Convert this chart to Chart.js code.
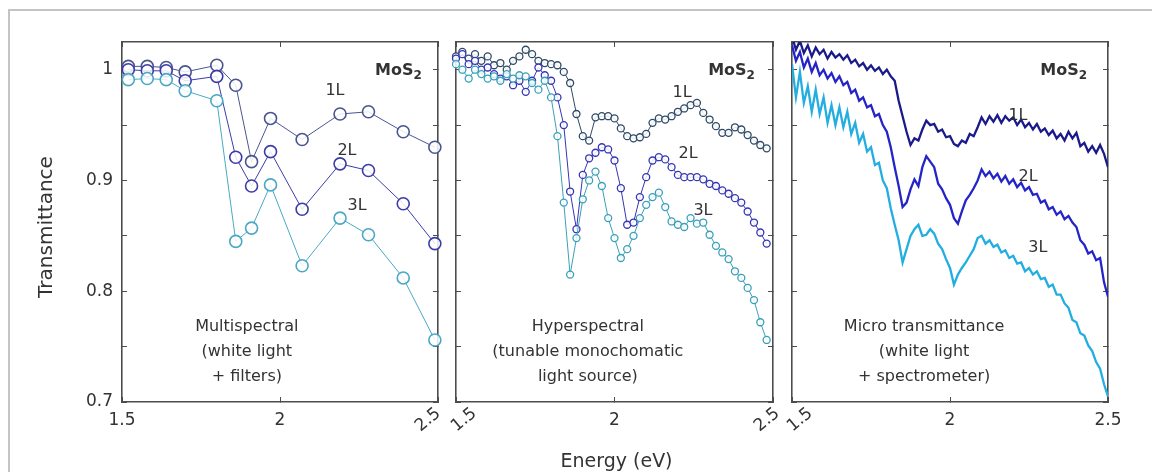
<!DOCTYPE html>
<html>
<head>
<meta charset="utf-8">
<script src="https://cdn.jsdelivr.net/npm/chart.js@4.4.1/dist/chart.umd.min.js"></script>
<style>
  html, body { margin: 0; padding: 0; background: #fff; }
  #wrap { position: relative; width: 1152px; height: 472px; overflow: hidden; }
  #wrap canvas { position: absolute; left: 0; top: 0; }
  #frame { position: absolute; left: 8px; top: 9px; width: 1300px; height: 600px;
           border-left: 2px solid #c4c4c4; border-top: 2px solid #c4c4c4; }
</style>
</head>
<body>
<div id="wrap">
  <div id="frame"></div>
  <canvas id="multi" width="1152" height="472"></canvas>
  <canvas id="hyper" width="1152" height="472"></canvas>
  <canvas id="micro" width="1152" height="472"></canvas>
</div>
<script>
// ---- data ----
var xTicks = [1.5, 2, 2.5];
var yTicks = [0.7, 0.75, 0.8, 0.85, 0.9, 0.95, 1.0];
var yLabels = ["0.7", "", "0.8", "", "0.9", "", "1"];

// multispectral (filters)
var energiesMulti = [1.52, 1.58, 1.64, 1.70, 1.80, 1.86, 1.91, 1.97, 2.07, 2.19, 2.28, 2.39, 2.49];
var multi1L = [1.003, 1.003, 1.002, 0.998, 1.004, 0.986, 0.917, 0.956, 0.937, 0.960, 0.962, 0.944, 0.930];
var multi2L = [1.000, 0.999, 0.999, 0.990, 0.994, 0.921, 0.895, 0.926, 0.874, 0.915, 0.909, 0.879, 0.843];
var multi3L = [0.991, 0.992, 0.991, 0.981, 0.972, 0.845, 0.857, 0.896, 0.823, 0.866, 0.851, 0.812, 0.756];

// hyperspectral (monochromator)
var energiesHyper = [1.50, 1.52, 1.54, 1.56, 1.58, 1.60, 1.62, 1.64, 1.66, 1.68,
  1.70, 1.72, 1.74, 1.76, 1.78, 1.80, 1.82, 1.84, 1.86, 1.88,
  1.90, 1.92, 1.94, 1.96, 1.98, 2.00, 2.02, 2.04, 2.06, 2.08,
  2.10, 2.12, 2.14, 2.16, 2.18, 2.20, 2.22, 2.24, 2.26, 2.28,
  2.30, 2.32, 2.34, 2.36, 2.38, 2.40, 2.42, 2.44, 2.46, 2.48];
var hyper1L = [1.012, 1.016, 1.010, 1.014, 1.008, 1.012, 1.004, 1.006, 1.000, 1.008,
  1.012, 1.018, 1.014, 1.008, 1.006, 1.005, 1.004, 0.998, 0.988, 0.960,
  0.940, 0.936, 0.957, 0.958, 0.958, 0.956, 0.947, 0.940, 0.938, 0.939,
  0.942, 0.952, 0.956, 0.955, 0.958, 0.962, 0.965, 0.968, 0.970, 0.961,
  0.955, 0.949, 0.943, 0.943, 0.948, 0.946, 0.941, 0.936, 0.932, 0.929];
var hyper2L = [1.010, 1.014, 1.005, 1.008, 1.000, 1.002, 0.996, 0.992, 0.994, 0.986,
  0.990, 0.980, 0.990, 1.002, 0.995, 0.990, 0.975, 0.950, 0.890, 0.856,
  0.905, 0.920, 0.925, 0.930, 0.928, 0.918, 0.893, 0.860, 0.862, 0.885,
  0.903, 0.918, 0.921, 0.919, 0.912, 0.905, 0.903, 0.903, 0.903, 0.901,
  0.897, 0.895, 0.891, 0.888, 0.884, 0.880, 0.872, 0.862, 0.853, 0.843];
var hyper3L = [1.005, 1.000, 0.992, 1.000, 0.996, 0.992, 0.994, 0.990, 0.996, 0.992,
  0.995, 0.994, 0.988, 0.982, 0.990, 0.975, 0.940, 0.880, 0.815, 0.848,
  0.883, 0.900, 0.908, 0.895, 0.866, 0.848, 0.830, 0.838, 0.850, 0.866,
  0.878, 0.885, 0.889, 0.876, 0.863, 0.860, 0.858, 0.866, 0.861, 0.862,
  0.851, 0.841, 0.835, 0.829, 0.818, 0.812, 0.803, 0.792, 0.772, 0.756];

// micro transmittance (spectrometer)
var energiesMicro = [1.5, 1.5125, 1.525, 1.5375, 1.55, 1.5625, 1.575, 1.5875, 1.6, 1.6125,
  1.625, 1.6375, 1.65, 1.6625, 1.675, 1.6875, 1.7, 1.7125, 1.725, 1.7375,
  1.75, 1.7625, 1.775, 1.7875, 1.8, 1.8125, 1.825, 1.8375, 1.85, 1.8625,
  1.875, 1.8875, 1.9, 1.9125, 1.925, 1.9375, 1.95, 1.9625, 1.975, 1.9875,
  2.0, 2.0125, 2.025, 2.0375, 2.05, 2.0625, 2.075, 2.0875, 2.1, 2.1125,
  2.125, 2.1375, 2.15, 2.1625, 2.175, 2.1875, 2.2, 2.2125, 2.225, 2.2375,
  2.25, 2.2625, 2.275, 2.2875, 2.3, 2.3125, 2.325, 2.3375, 2.35, 2.3625,
  2.375, 2.3875, 2.4, 2.4125, 2.425, 2.4375, 2.45, 2.4625, 2.475, 2.4875,
  2.5];
var micro1L = [1.030, 1.018, 1.026, 1.015, 1.022, 1.012, 1.020, 1.014, 1.018, 1.010,
  1.016, 1.011, 1.014, 1.009, 1.013, 1.006, 1.009, 1.003, 1.006, 1.000,
  1.004, 0.999, 1.002, 0.996, 1.000, 0.994, 0.990, 0.972, 0.958, 0.944,
  0.932, 0.938, 0.936, 0.946, 0.954, 0.950, 0.951, 0.944, 0.946, 0.939,
  0.940, 0.933, 0.931, 0.936, 0.934, 0.942, 0.940, 0.948, 0.957, 0.951,
  0.958, 0.953, 0.959, 0.952, 0.958, 0.954, 0.957, 0.950, 0.955, 0.948,
  0.952, 0.946, 0.951, 0.944, 0.947, 0.941, 0.945, 0.938, 0.942, 0.936,
  0.944, 0.938, 0.943, 0.931, 0.934, 0.926, 0.931, 0.925, 0.932, 0.924,
  0.912];
var micro2L = [1.022, 1.008, 1.016, 1.002, 1.010, 0.998, 1.006, 0.995, 1.000, 0.992,
  0.997, 0.989, 0.994, 0.986, 0.989, 0.979, 0.982, 0.972, 0.975, 0.966,
  0.968, 0.958, 0.960, 0.950, 0.944, 0.930, 0.912, 0.895, 0.876, 0.880,
  0.892, 0.901, 0.895, 0.912, 0.922, 0.917, 0.912, 0.897, 0.892, 0.884,
  0.878, 0.866, 0.861, 0.872, 0.882, 0.887, 0.893, 0.900, 0.910, 0.904,
  0.908, 0.902, 0.906, 0.899, 0.904, 0.897, 0.901, 0.894, 0.898, 0.891,
  0.894, 0.887, 0.888, 0.880, 0.882, 0.874, 0.876, 0.869, 0.872, 0.865,
  0.868, 0.862, 0.858, 0.846, 0.842, 0.834, 0.836, 0.828, 0.830, 0.808,
  0.795];
var micro3L = [1.005, 0.975, 0.998, 0.970, 0.985, 0.962, 0.982, 0.960, 0.975, 0.952,
  0.968, 0.950, 0.966, 0.948, 0.962, 0.942, 0.952, 0.934, 0.942, 0.926,
  0.930, 0.914, 0.916, 0.900, 0.893, 0.875, 0.860, 0.846, 0.826, 0.838,
  0.850, 0.856, 0.860, 0.850, 0.851, 0.856, 0.852, 0.843, 0.838, 0.829,
  0.821, 0.806, 0.815, 0.821, 0.826, 0.832, 0.838, 0.848, 0.850, 0.843,
  0.846, 0.840, 0.842, 0.835, 0.837, 0.830, 0.832, 0.825, 0.826, 0.818,
  0.821, 0.815, 0.818, 0.811, 0.812, 0.804, 0.806, 0.797, 0.797, 0.789,
  0.785, 0.774, 0.772, 0.762, 0.760, 0.751, 0.746, 0.736, 0.730, 0.716,
  0.705];

// ---- styling ----
var FONT = "'DejaVu Sans', 'Liberation Sans', sans-serif";
var TEXT = "#333333";
var AXIS = "#4d4d4d";
var Y_AXIS_W = 60;   // room for the y tick labels (panel 1)
var X_AXIS_H = 40;   // room for the x tick labels

function pts(xs, ys) {
  return ys.map(function (y, i) { return { x: xs[i], y: y }; });
}

function setTicks(values) {
  return function (scale) {
    scale.ticks = values.map(function (v) { return { value: v }; });
  };
}

// text that sits inside/around each panel
var panelText = {
  id: "panelText",
  afterDraw: function (chart, args, o) {
    var ctx = chart.ctx, xs = chart.scales.x, ys = chart.scales.y, area = chart.chartArea;
    ctx.save();
    ctx.fillStyle = TEXT;
    ctx.textAlign = "center";
    ctx.textBaseline = "middle";

    ctx.font = "16px " + FONT;
    var nx = xs.getPixelForValue(o.noteX), ny = ys.getPixelForValue(o.noteY);
    o.note.forEach(function (line, i) { ctx.fillText(line, nx, ny + i * 25); });

    o.layers.forEach(function (l) {
      ctx.fillText(l.t, xs.getPixelForValue(l.x), ys.getPixelForValue(l.y));
    });

    // MoS2 with subscript
    ctx.textAlign = "left";
    ctx.textBaseline = "alphabetic";
    ctx.font = "bold 16px " + FONT;
    var w1 = ctx.measureText("MoS").width;
    ctx.font = "bold 12px " + FONT;
    var w2 = ctx.measureText("2").width;
    var mx = xs.getPixelForValue(o.mosX) - w1 - w2, my = ys.getPixelForValue(o.mosY);
    ctx.font = "bold 16px " + FONT;
    ctx.fillText("MoS", mx, my);
    ctx.font = "bold 12px " + FONT;
    ctx.fillText("2", mx + w1, my + 4);

    // tilted end labels where panels meet
    ctx.font = "17px " + FONT;
    ctx.textAlign = "center";
    ctx.textBaseline = "middle";
    o.tilted.forEach(function (t) {
      ctx.save();
      ctx.translate(xs.getPixelForValue(t.v) + t.dx, area.bottom + 18);
      ctx.rotate(-40 * Math.PI / 180);
      ctx.fillText(t.v.toString(), 0, 0);
      ctx.restore();
    });

    if (o.yTitle) {
      ctx.save();
      ctx.font = "20px " + FONT;
      ctx.translate(area.left - 75, (area.top + area.bottom) / 2 + 5);
      ctx.rotate(-Math.PI / 2);
      ctx.fillText(o.yTitle, 0, 0);
      ctx.restore();
    }
    if (o.xTitle) {
      ctx.font = "19px " + FONT;
      ctx.fillText(o.xTitle, (area.left + area.right) / 2 + 2, area.bottom + 60);
    }
    ctx.restore();
  }
};

function edgeAxis(position, isX, size) {
  return {
    type: "linear",
    position: position,
    min: isX ? 1.5 : 0.7,
    max: isX ? 2.5 : 1.025,
    afterBuildTicks: setTicks(isX ? xTicks : yTicks),
    afterFit: function (s) { if (isX) s.height = size; else s.width = size; },
    grid: { drawOnChartArea: false, drawTicks: true, tickLength: -5, color: AXIS, lineWidth: 1 },
    border: { display: true, color: AXIS, width: 1.6 },
    ticks: { display: false }
  };
}

function makePanel(id, p) {
  var yW = p.showY ? Y_AXIS_W : 0;
  var scales = {
    x: edgeAxis("bottom", true, X_AXIS_H),
    xTop: edgeAxis("top", true, 0),
    y: edgeAxis("left", false, yW),
    yRight: edgeAxis("right", false, 0)
  };
  scales.x.ticks = {
    display: true, autoSkip: false, maxRotation: 0, padding: 13, color: TEXT,
    font: { family: FONT, size: 17 },
    callback: function (v) { return p.xLabels[xTicks.indexOf(v)]; }
  };
  if (p.showY) {
    scales.y.ticks = {
      display: true, autoSkip: false, padding: 14, color: TEXT,
      font: { family: FONT, size: 17 },
      callback: function (v) { return yLabels[yTicks.indexOf(v)]; }
    };
  }
  new Chart(document.getElementById(id), {
    type: "line",
    data: { datasets: p.datasets },
    options: {
      responsive: false,
      animation: false,
      devicePixelRatio: 1,
      events: [],
      layout: { padding: { left: p.left - yW, right: 1152 - p.right, top: 42, bottom: 70 - X_AXIS_H } },
      plugins: {
        legend: { display: false },
        tooltip: { enabled: false },
        panelText: p.text
      },
      scales: scales
    },
    plugins: [panelText]
  });
}

function markerSet(data, color, r) {
  return {
    data: data, borderColor: color, borderWidth: 1, backgroundColor: color,
    pointRadius: r, pointBorderWidth: r > 4 ? 1.6 : 1.3, pointBackgroundColor: "rgba(255,255,255,0.85)",
    pointBorderColor: color, tension: 0, clip: 6
  };
}

function traceSet(data, color) {
  return { data: data, borderColor: color, borderWidth: 2.3, pointRadius: 0, tension: 0, clip: 0 };
}

makePanel("multi", {
  left: 122, right: 438, showY: true, xLabels: ["1.5", "2", ""],
  datasets: [
    markerSet(pts(energiesMulti, multi3L), "#4aa8c4", 6),
    markerSet(pts(energiesMulti, multi2L), "#3c3ca8", 6),
    markerSet(pts(energiesMulti, multi1L), "#4a5590", 6)
  ],
  text: {
    note: ["Multispectral", "(white light", "+ filters)"], noteX: 1.895, noteY: 0.7676,
    layers: [{ t: "1L", x: 2.174, y: 0.981 }, { t: "2L", x: 2.212, y: 0.927 }, { t: "3L", x: 2.244, y: 0.877 }],
    mosX: 2.449, mosY: 0.9955,
    tilted: [{ v: 2.5, dx: -10 }],
    yTitle: "Transmittance"
  }
});

makePanel("hyper", {
  left: 456, right: 773, showY: false, xLabels: ["", "2", ""],
  datasets: [
    markerSet(pts(energiesHyper, hyper3L), "#3aa0b8", 3.5),
    markerSet(pts(energiesHyper, hyper2L), "#3535b5", 3.5),
    markerSet(pts(energiesHyper, hyper1L), "#2e4a66", 3.5)
  ],
  text: {
    note: ["Hyperspectral", "(tunable monochomatic", "light source)"], noteX: 1.916, noteY: 0.7676,
    layers: [{ t: "1L", x: 2.213, y: 0.979 }, { t: "2L", x: 2.232, y: 0.924 }, { t: "3L", x: 2.279, y: 0.873 }],
    mosX: 2.443, mosY: 0.9955,
    tilted: [{ v: 1.5, dx: 8 }, { v: 2.5, dx: -6 }],
    xTitle: "Energy (eV)"
  }
});

makePanel("micro", {
  left: 792, right: 1108, showY: false, xLabels: ["", "2", "2.5"],
  datasets: [
    traceSet(pts(energiesMicro, micro3L), "#22aee0"),
    traceSet(pts(energiesMicro, micro2L), "#2424c8"),
    traceSet(pts(energiesMicro, micro1L), "#1a1a8a")
  ],
  text: {
    note: ["Micro transmittance", "(white light", "+ spectrometer)"], noteX: 1.918, noteY: 0.7676,
    layers: [{ t: "1L", x: 2.215, y: 0.9586 }, { t: "2L", x: 2.247, y: 0.903 }, { t: "3L", x: 2.278, y: 0.839 }],
    mosX: 2.434, mosY: 0.9955,
    tilted: [{ v: 1.5, dx: 8 }]
  }
});
</script>
</body>
</html>
